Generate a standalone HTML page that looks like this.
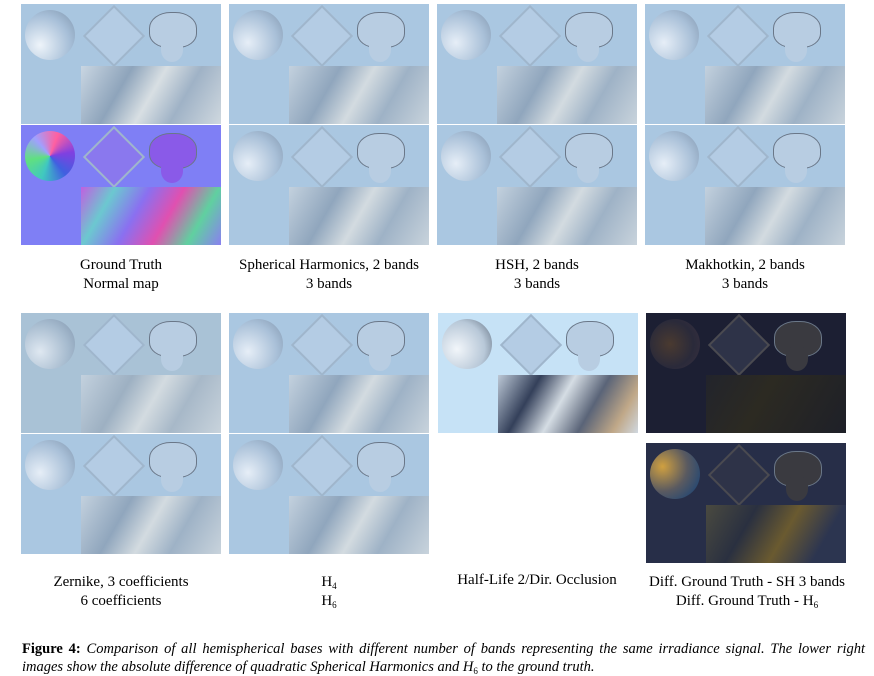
<!DOCTYPE html>
<html><head><meta charset="utf-8"><style>
body{margin:0;background:#fff;width:874px;height:676px;position:relative;overflow:hidden;font-family:"Liberation Serif",serif;color:#000}
.p{position:absolute;width:200px;height:120px;overflow:hidden}
.sph{position:absolute;left:4px;top:6px;width:50px;height:50px;border-radius:50%}
.dia{position:absolute;left:71px;top:10px;width:40px;height:40px;transform:rotate(45deg)}
.mk{position:absolute;left:128px;top:8px;width:46px;height:34px;border-radius:45% 45% 40% 40%}
.mk2{position:absolute;left:140px;top:34px;width:22px;height:24px;border-radius:30% 30% 50% 50%}
.tx{position:absolute;left:60px;top:62px;width:140px;height:58px}
.lbl{position:absolute;width:210px;text-align:center;font-size:15px;line-height:19px}
sub{font-size:9px;line-height:0;vertical-align:-3px}
.cap{position:absolute;left:22px;font-size:14.5px;line-height:18px;white-space:nowrap}
</style></head><body>
<div id="figs"></div>
<script>
const panels=[
 [21,4,'gt'],[21,125,'nm'],[229,4,'a'],[229,125,'a'],[437,4,'a'],[437,125,'a'],[645,4,'a'],[645,125,'a'],
 [21,313,'z'],[21,434,'a'],[229,313,'a'],[229,434,'a'],[438,313,'hl'],[646,313,'d'],[646,443,'d2']];
const T={
 gt:{bg:'#a9c6e0',sph:'radial-gradient(circle at 30% 70%,#eef4fa,#a7bfd8 60%,#7d93ab)',tx:'linear-gradient(120deg,#c9d6e2,#8ea4bb 30%,#d8dfe3 50%,#9fb2c6 70%,#cfd8df)'},
 a:{bg:'#aac7e1',sph:'radial-gradient(circle at 30% 65%,#e6eef7,#a9c0d8 60%,#8095ad)',tx:'linear-gradient(120deg,#c3d1de,#90a6bd 30%,#d3dbe0 50%,#9eb2c6 70%,#c8d3dc)'},
 z:{bg:'#a9c2d6',sph:'radial-gradient(circle at 30% 65%,#dfe8f1,#a5bace 60%,#8095ad)',tx:'linear-gradient(120deg,#c3d1de,#9db0c2 30%,#d3dbe0 50%,#a7b8c8 70%,#c8d3dc)'},
 nm:{bg:'#7f7ff5',sph:'conic-gradient(from 200deg,#40c8c0,#60e080,#a0a0ff,#ff60a0,#8040e0,#4060e0,#40c8c0)',tx:'linear-gradient(120deg,#c060e0,#6cc8d0 20%,#8a70f0 40%,#e050b0 60%,#60d0a0 80%,#8a80f0)'},
 hl:{bg:'#c6e2f6',sph:'radial-gradient(circle at 30% 60%,#f2f6fa,#b8c8d8 60%,#5c6b7c)',tx:'linear-gradient(120deg,#bcc8d6,#34405a 25%,#d5dde4 45%,#5a6478 65%,#c0a888 85%,#d0d8e0)'},
 d:{bg:'#1c1f33',sph:'radial-gradient(circle at 40% 50%,#4a3a30,#2a2a3a 60%,#3a3040)',tx:'linear-gradient(120deg,#22242c,#2c2a22 40%,#1e2028)'},
 d2:{bg:'#272e48',sph:'radial-gradient(circle at 25% 35%,#d0a040,#5a5a60 50%,#2c4a70 80%)',tx:'linear-gradient(120deg,#4a4a40,#2a3040 30%,#6a5a30 55%,#2c3550 80%)'}
};
const figs=document.getElementById('figs');
panels.forEach((p,i)=>{
 const t=T[p[2]];
 const d=document.createElement('div');
 d.className='p';
 
 
 d.style.left=p[0]+'px';d.style.top=p[1]+'px';d.style.background=t.bg;
 const dark=p[2][0]==='d';
 const mc=p[2]==='nm'?'#8a5ae8':dark?'#3a3a40':'#b8cde2';
 d.innerHTML='<div class="sph" style="background:'+t.sph+'"></div>'+
 '<div class="dia" style="background:'+(dark?'#2e3348':p[2]==='nm'?'#8a78ee':'#b4cce4')+';border:2px solid '+(dark?'#4a4a50':'#9fb6cc')+'"></div>'+
 '<div class="mk" style="background:'+mc+';border:1px solid #6a7788"></div><div class="mk2" style="background:'+mc+'"></div>'+
 '<div class="tx" style="background:'+t.tx+'"></div>';
 figs.appendChild(d);
});
</script>
<div class="lbl" style="left:16px;top:256px">Ground Truth<br>Normal map</div>
<div class="lbl" style="left:224px;top:256px">Spherical Harmonics, 2 bands<br>3 bands</div>
<div class="lbl" style="left:432px;top:256px">HSH, 2 bands<br>3 bands</div>
<div class="lbl" style="left:640px;top:256px">Makhotkin, 2 bands<br>3 bands</div>
<div class="lbl" style="left:16px;top:573px">Zernike, 3 coefficients<br>6 coefficients</div>
<div class="lbl" style="left:224px;top:573px">H<sub>4</sub><br>H<sub>6</sub></div>
<div class="lbl" style="left:432px;top:571px">Half-Life 2/Dir. Occlusion</div>
<div class="lbl" style="left:632px;top:573px;width:230px">Diff. Ground Truth - SH 3 bands<br>Diff. Ground Truth - H<sub>6</sub></div>
<div class="cap" style="top:640px"><span style="word-spacing:2.2px"><b>Figure 4:</b> <i>Comparison of all hemispherical bases with different number of bands representing the same irradiance signal. The lower right</i></span><br><i>images show the absolute difference of quadratic Spherical Harmonics and H</i><sub>6</sub><i> to the ground truth.</i></div>
</body></html>
